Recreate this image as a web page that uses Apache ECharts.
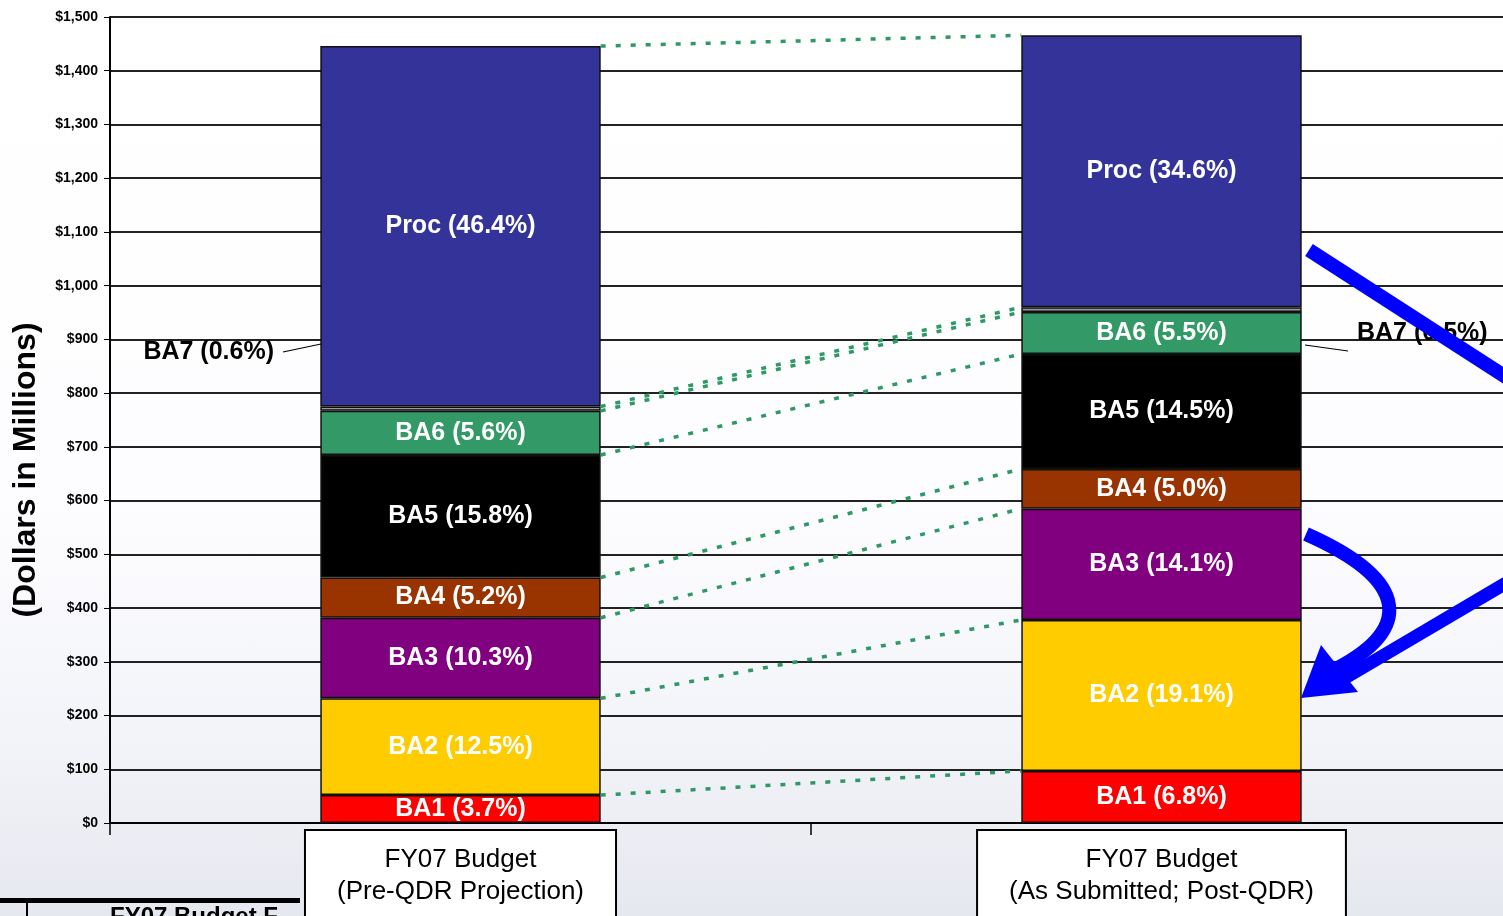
<!DOCTYPE html>
<html>
<head>
<meta charset="utf-8">
<script src="https://cdn.jsdelivr.net/npm/echarts@6/dist/echarts.min.js"></script>
<style>
  html, body { margin: 0; padding: 0; }
  #chart {
    width: 1503px; height: 916px;
    background: linear-gradient(to bottom, #ffffff 0%, #fdfdff 55%, #f3f4f9 80%, #e6e8ef 100%);
  }
</style>
</head>
<body>
<div id="chart"></div>
<script>
// categories and segments (bottom to top of the stack)
const categories = ['FY07 Budget\n(Pre-QDR Projection)', 'FY07 Budget\n(As Submitted; Post-QDR)']
const segmentNames = ['BA1', 'BA2', 'BA3', 'BA4', 'BA5', 'BA6', 'BA7', 'Proc']
const preQdrValues = [52, 180, 150, 75, 228, 82, 8, 671]
const postQdrValues = [97, 281, 207, 74, 214, 78, 9, 506]
const preQdrPct = [3.7, 12.5, 10.3, 5.2, 15.8, 5.6, 0.6, 46.4]
const postQdrPct = [6.8, 19.1, 14.1, 5.0, 14.5, 5.5, 0.5, 34.6]
const segmentColors = ['#ff0000', '#ffcc00', '#800080', '#993300', '#000000', '#339966', '#999999', '#333399']

const chart = echarts.init(document.getElementById('chart'))

const arial = '"Liberation Sans", Arial, sans-serif'

// use the narrow face if it's installed, otherwise shrink the regular one
function hasFont(name) {
  const ctx = document.createElement('canvas').getContext('2d')
  const sample = 'BA5 (15.8%) Proc'
  ctx.font = 'bold 30px monospace'
  const w0 = ctx.measureText(sample).width
  ctx.font = 'bold 30px "' + name + '", monospace'
  return ctx.measureText(sample).width !== w0
}
let barFont = arial
let barFontSize = 25
if (hasFont('Liberation Sans Narrow')) {
  barFont = '"Liberation Sans Narrow", sans-serif'
  barFontSize = 29
} else if (hasFont('Arial Narrow')) {
  barFont = '"Arial Narrow", sans-serif'
  barFontSize = 29
}

// running totals for the dotted connectors
function cumulative(arr) {
  let s = 0
  return arr.map(v => (s += v))
}
const preTops = cumulative(preQdrValues)
const postTops = cumulative(postQdrValues)

const barSeries = segmentNames.map((name, i) => {
  const s = {
    name: name,
    type: 'bar',
    stack: 'total',
    barWidth: '40%',
    data: [preQdrValues[i], postQdrValues[i]],
    itemStyle: { color: segmentColors[i], borderColor: '#111', borderWidth: 1.5 },
    label: {
      show: true,
      position: 'inside',
      color: '#fff',
      fontFamily: barFont,
      fontWeight: 'bold',
      fontSize: barFontSize,
      formatter: p => name + ' (' + (p.dataIndex === 0 ? preQdrPct[i] : postQdrPct[i]).toFixed(1) + '%)'
    },
    z: 2
  }
  if (name === 'BA7') {
    s.label.color = '#000'
    s.labelLayout = p => p.dataIndex === 0
      ? { x: 274, y: 352, align: 'right', verticalAlign: 'middle' }
      : { x: 1357, y: 333, align: 'left', verticalAlign: 'middle' }
  }
  return s
})

// bar edges on the helper value axis (band 0..1 and 1..2, bar = 40% of band)
const connectorSeries = segmentNames.map((name, i) => ({
  type: 'line',
  xAxisIndex: 1,
  data: [[0.7, preTops[i]], [1.3, postTops[i]]],
  symbol: 'none',
  silent: true,
  lineStyle: { color: '#2e9966', width: 3.5, type: [5, 10] },
  z: 3
}))

const option = {
  animation: false,
  backgroundColor: 'transparent',
  grid: { left: 110, top: 17, width: 1402, height: 806, containLabel: false, outerBoundsMode: 'none' },
  xAxis: [
    {
      type: 'category',
      data: categories,
      axisLine: { lineStyle: { color: '#000', width: 2 } },
      axisTick: { show: true, length: 12, lineStyle: { color: '#000', width: 1.5 } },
      axisLabel: {
        interval: 0,
        margin: 8,
        color: '#000',
        fontFamily: arial,
        fontSize: 26,
        lineHeight: 32,
        backgroundColor: '#fff',
        borderColor: '#000',
        borderWidth: 2,
        padding: [13, 31, 40, 31]
      }
    },
    { type: 'value', min: 0, max: 2, show: false }
  ],
  yAxis: {
    type: 'value',
    min: 0,
    max: 1500,
    interval: 100,
    name: '(Dollars in Millions)',
    nameLocation: 'middle',
    nameGap: 68,
    nameTextStyle: { color: '#000', fontFamily: arial, fontWeight: 'bold', fontSize: 32, padding: [0, 100, 0, 0] },
    axisLine: { show: true, lineStyle: { color: '#000', width: 2 } },
    axisTick: { show: true, length: 6, lineStyle: { color: '#000' } },
    axisLabel: {
      color: '#000',
      fontFamily: arial,
      fontWeight: 'bold',
      fontSize: 14,
      margin: 12,
      formatter: v => '$' + v.toLocaleString('en-US')
    },
    splitLine: { lineStyle: { color: '#222', width: 2 } }
  },
  graphic: [
    // BA7 leader lines
    { type: 'line', shape: { x1: 283, y1: 352, x2: 321, y2: 344 }, style: { stroke: '#000', lineWidth: 1.2 }, z: 50 },
    { type: 'line', shape: { x1: 1305, y1: 345, x2: 1348, y2: 351 }, style: { stroke: '#000', lineWidth: 1.2 }, z: 50 },
    // blue annotation arrows
    { type: 'line', shape: { x1: 1309, y1: 250, x2: 1540, y2: 399 }, style: { stroke: '#0000ff', lineWidth: 14 }, z: 100 },
    { type: 'bezierCurve', shape: { x1: 1306, y1: 534, cpx1: 1410, cpy1: 580, cpx2: 1415, cpy2: 630, x2: 1330, y2: 672 }, style: { stroke: '#0000ff', lineWidth: 14, fill: null }, z: 100 },
    { type: 'line', shape: { x1: 1540, y1: 563, x2: 1340, y2: 681 }, style: { stroke: '#0000ff', lineWidth: 13 }, z: 100 },
    { type: 'polygon', shape: { points: [[1301, 698], [1321, 645], [1358, 692]] }, style: { fill: '#0000ff' }, z: 100 },
    // partial table peeking in at the bottom left
    { type: 'rect', shape: { x: 0, y: 898, width: 300, height: 5 }, style: { fill: '#000' }, z: -1 },
    { type: 'line', shape: { x1: 27, y1: 903, x2: 27, y2: 916 }, style: { stroke: '#000', lineWidth: 2 }, z: -1 },
    { type: 'text', x: 110, y: 905, style: { text: 'FY07 Budget F', fill: '#000', font: 'bold 24px ' + arial }, z: -1 }
  ],
  series: [...barSeries, ...connectorSeries]
}

chart.setOption(option)
</script>
</body>
</html>
